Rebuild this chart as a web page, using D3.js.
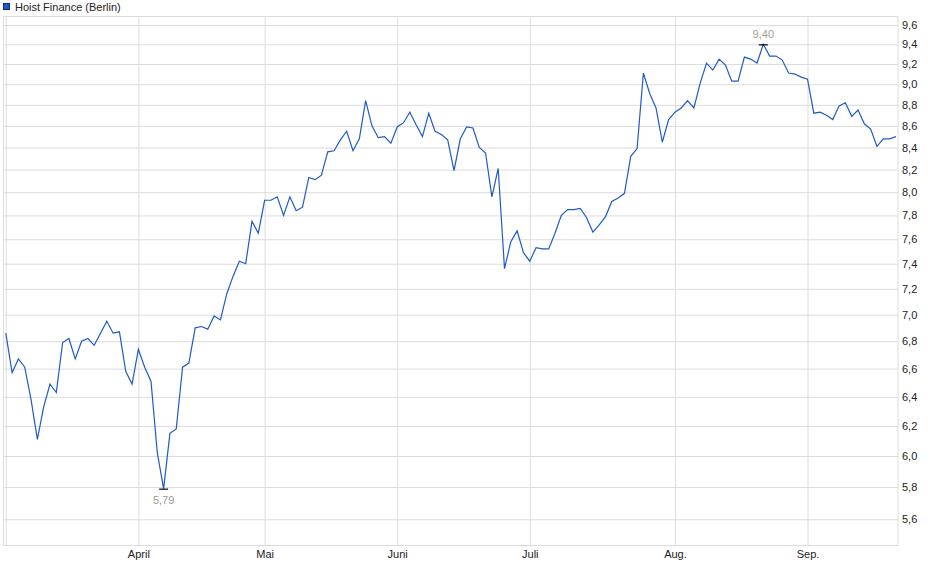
<!DOCTYPE html>
<html>
<head>
<meta charset="utf-8">
<script src="https://cdn.jsdelivr.net/npm/d3@7"></script>
<style>
  body { margin: 0; background: #fff; }
  svg { font-family: "Liberation Sans", Arial, sans-serif; font-size: 11px; }
</style>
</head>
<body>
<svg id="chart" width="940" height="579"></svg>
<script>
// closing prices per month (Berlin), one value per trading day
const march = [6.86, 6.57, 6.67, 6.61, 6.38, 6.11, 6.33, 6.49, 6.43, 6.79, 6.82,
  6.67, 6.80, 6.82, 6.77, 6.86, 6.95, 6.86, 6.87, 6.58, 6.49];
const april = [6.74, 6.61, 6.51, 6.02, 5.79, 6.15, 6.18, 6.61, 6.64, 6.90, 6.91,
  6.89, 6.99, 6.96, 7.16, 7.30, 7.42, 7.40, 7.75, 7.65];
const may = [7.93, 7.93, 7.96, 7.80, 7.96, 7.84, 7.87, 8.13, 8.11, 8.15, 8.36,
  8.37, 8.47, 8.55, 8.37, 8.48, 8.84, 8.60, 8.49, 8.50, 8.44];
const june = [8.59, 8.63, 8.73, 8.61, 8.50, 8.72, 8.55, 8.52, 8.47, 8.19, 8.48,
  8.59, 8.58, 8.40, 8.35, 7.96, 8.21, 7.36, 7.58, 7.67, 7.49];
const july = [7.42, 7.53, 7.52, 7.52, 7.65, 7.80, 7.85, 7.85, 7.86, 7.78, 7.66,
  7.72, 7.79, 7.92, 7.95, 7.99, 8.32, 8.39, 9.11, 8.91, 8.77, 8.45, 8.66];
const august = [8.73, 8.77, 8.84, 8.77, 9.01, 9.21, 9.14, 9.25, 9.19, 9.03, 9.03,
  9.27, 9.25, 9.21, 9.40, 9.28, 9.28, 9.24, 9.11, 9.10, 9.07];
const september = [9.05, 8.72, 8.73, 8.70, 8.66, 8.79, 8.82, 8.69, 8.75, 8.62,
  8.57, 8.41, 8.48, 8.48, 8.50];

const months = [march, april, may, june, july, august, september];
const monthLabels = ["", "April", "Mai", "Juni", "Juli", "Aug.", "Sep."];
const yTicks = [5.6, 5.8, 6.0, 6.2, 6.4, 6.6, 6.8, 7.0, 7.2, 7.4, 7.6, 7.8,
  8.0, 8.2, 8.4, 8.6, 8.8, 9.0, 9.2, 9.4, 9.6];
const seriesName = "Hoist Finance (Berlin)";

const prices = months.flat();
const monthStarts = [];
months.reduce((n, m) => { monthStarts.push(n); return n + m.length; }, 0);

const plot = { left: 3, right: 898, top: 16, bottom: 545 },
  lineColor = "#1f5bc6",
  gridColor = "#dcdcdc";

const de = d3.formatLocale({ decimal: ",", thousands: ".", grouping: [3], currency: ["", "€"] });
const fmt1 = de.format(".1f"), fmt2 = de.format(".2f");

const x = d3.scaleLinear().domain([0, prices.length - 1]).range([5.8, 895.9]);
const y = d3.scaleLog().domain([5.445, 9.695]).range([plot.bottom, plot.top]);

const svg = d3.select("#chart");

// legend
svg.append("rect")
  .attr("x", 3.5).attr("y", 3.5).attr("width", 6).attr("height", 6)
  .attr("fill", "#1f5bc6").attr("stroke", "#0d2f70");
svg.append("text")
  .attr("x", 15).attr("y", 11)
  .attr("fill", "#222")
  .text(seriesName);

// horizontal grid + right axis
const yAxis = d3.axisRight(y)
  .tickValues(yTicks)
  .tickFormat(fmt1)
  .tickSize(-(plot.right - plot.left))
  .tickPadding(4);

svg.append("g")
  .attr("transform", `translate(${plot.right},0)`)
  .call(yAxis)
  .call(g => g.select(".domain").remove())
  .call(g => g.selectAll("line").attr("stroke", gridColor))
  .call(g => g.selectAll("text").attr("fill", "#222").attr("font-size", 11));

// vertical month grid + bottom axis
const xAxis = d3.axisBottom(x)
  .tickValues(monthStarts)
  .tickFormat((d, i) => monthLabels[i])
  .tickSize(-(plot.bottom - plot.top))
  .tickPadding(5);

svg.append("g")
  .attr("transform", `translate(0,${plot.bottom})`)
  .call(xAxis)
  .call(g => g.select(".domain").remove())
  .call(g => g.selectAll("line").attr("stroke", gridColor))
  .call(g => g.selectAll("text").attr("fill", "#222").attr("font-size", 11));

// frame
svg.append("rect")
  .attr("x", plot.left + 0.5).attr("y", plot.top + 0.5)
  .attr("width", plot.right - plot.left - 0.5)
  .attr("height", plot.bottom - plot.top)
  .attr("fill", "none")
  .attr("stroke", gridColor);

// price line
const line = d3.line()
  .x((d, i) => x(i))
  .y(d => y(d));

svg.append("path")
  .datum(prices)
  .attr("d", line)
  .attr("fill", "none")
  .attr("stroke", lineColor)
  .attr("stroke-width", 1.2)
  .attr("stroke-linejoin", "miter");

// min / max markers
const iMin = d3.minIndex(prices), iMax = d3.maxIndex(prices);
const marks = [
  { i: iMin, dy: 15, color: "#999" },
  { i: iMax, dy: -6, color: "#a89c8c" }
];
marks.forEach(m => {
  const cx = x(m.i), cy = y(prices[m.i]);
  svg.append("line")
    .attr("x1", cx - 4.5).attr("x2", cx + 4.5)
    .attr("y1", cy + 0.5).attr("y2", cy + 0.5)
    .attr("stroke", "#000").attr("stroke-width", 1.2);
  svg.append("text")
    .attr("x", cx).attr("y", cy + m.dy)
    .attr("text-anchor", "middle")
    .attr("fill", m.color)
    .text(fmt2(prices[m.i]));
});
</script>
</body>
</html>
